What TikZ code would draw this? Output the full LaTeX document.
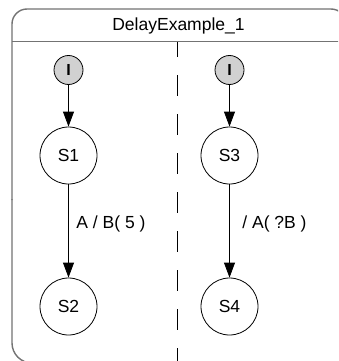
\documentclass[tikz,border=0pt]{standalone}
\usepackage{fontspec}
\setmainfont{Liberation Sans}
\usetikzlibrary{arrows.meta}
\begin{document}
\begin{tikzpicture}[x=1pt,y=-1pt,
  frame/.style={draw=black!55,line width=1.4pt},
  region/.style={draw=black,line width=0.9pt,dash pattern=on 21pt off 18pt,dash phase=6pt},
  state/.style={circle,draw=black,line width=0.8pt,minimum size=57pt,inner sep=0pt,
    font=\fontsize{17.5}{20}\selectfont},
  initstate/.style={circle,draw=black,line width=0.8pt,fill=black!18,minimum size=29pt,
    inner sep=0pt,font=\fontsize{16}{18}\selectfont\bfseries},
  trans/.style={draw=black,line width=0.8pt,-{Triangle[length=15pt,width=11pt]}},
  tlabel/.style={anchor=west,inner sep=0pt,font=\fontsize{17.5}{20}\selectfont}]
\useasboundingbox (0,0) rectangle (338,361);
\clip (0,0) rectangle (338,361);
\fill[white] (0,0) rectangle (338,361);

% composite state outline and header
\draw[frame,rounded corners=15pt] (12,200) |- (346,9) -- (346,40);
\draw[frame,rounded corners=20pt] (12,199) |- (60,363);
\draw[frame] (12,41.7) -- (346,41.7);
\node[font=\fontsize{17.5}{20}\selectfont] (title) at (178.5,25.5) {DelayExample\_1};

% region separator
\coordinate (sepTop) at (177,42);
\coordinate (sepBot) at (177,361);
\draw[region] (sepTop) -- (sepBot);

% left region
\node[initstate] (i1) at (68.5,70) {I};
\node[state] (s1) at (68.5,155.5) {S1};
\node[state] (s2) at (68.5,306.5) {S2};
\draw[trans] (i1) -- (s1);
\draw[trans] (s1) -- node[tlabel,pos=0.42,xshift=7.5pt] {A / B( 5 )} (s2);

% right region
\node[initstate] (i2) at (229.5,70) {I};
\node[state] (s3) at (229.5,155.5) {S3};
\node[state] (s4) at (229.5,306.5) {S4};
\draw[trans] (i2) -- (s3);
\draw[trans] (s3) -- node[tlabel,pos=0.42,xshift=12.5pt] {/ A( ?B )} (s4);
\end{tikzpicture}
\end{document}
